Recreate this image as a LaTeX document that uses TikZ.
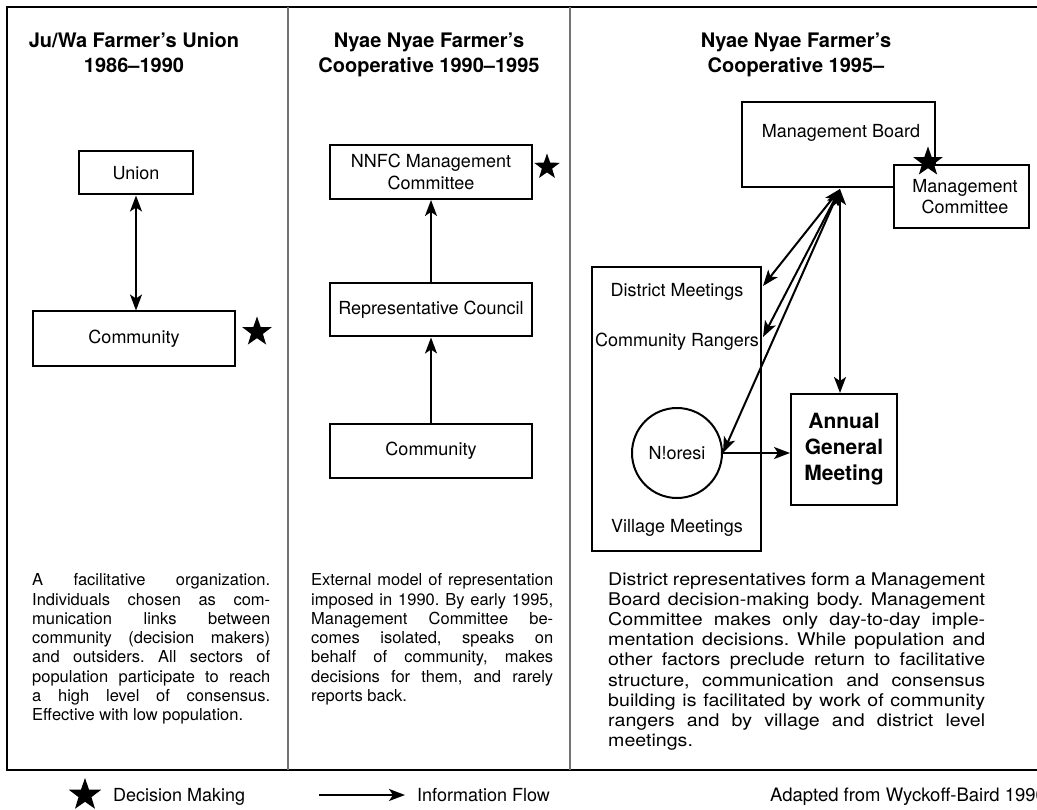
\documentclass[tikz,border=0pt]{standalone}
\usepackage{fontspec}
\setmainfont{TeX Gyre Heros}
\newfontfamily\widefont[FakeStretch=1.12]{TeX Gyre Heros}
\usetikzlibrary{arrows.meta,shapes.geometric,calc}
\newcommand{\jl}[2]{\makebox[#1][s]{\spaceskip=0pt\xspaceskip=0pt\frenchspacing #2}}
\begin{document}
\begin{tikzpicture}[x=1pt,y=-1pt,
  >={Stealth[length=16pt,width=12pt,inset=4pt]},
  box/.style={draw, line width=2pt, rectangle, inner sep=0pt, fill=white,
    font=\fontsize{18}{21}\selectfont, align=center},
  titlenode/.style={font=\fontsize{20}{25.7}\selectfont\bfseries, align=center, anchor=north, inner sep=0pt},
  lbl/.style={font=\fontsize{18}{21}\selectfont, inner sep=0pt, anchor=base},
  conn/.style={line width=2pt},
  dstar/.style={star, star points=5, star point ratio=2.5, fill=black, draw=none, inner sep=0pt},
  para/.style={anchor=north west, inner sep=0pt, align=left},
  divider/.style={line width=1.2pt, draw=black!55},
]
\useasboundingbox (0,0) rectangle (1037,810);
\clip (0,0) rectangle (1037,810);
\fill[white] (0,0) rectangle (1037,810);

% ---------- frame ----------
\draw[line width=2pt] (1045,7) -- (7,7) -- (7,770);
\draw[line width=2.8pt] (6,770) -- (1045,770);
\draw[divider] (288,7) -- (288,770);
\draw[divider] (570,7) -- (570,770);

% ---------- panel 1 ----------
\node[titlenode] (t1) at (134,29) {\strut Ju/Wa Farmer’s Union\\1986–1990};
\node[box, minimum width=114pt, minimum height=43pt] (union) at (136,173) {Union};
\node[box, minimum width=202pt, minimum height=55pt] (comm1) at (134,339) {Community};
\draw[conn,<->] (union.south) -- (union.south |- comm1.north);
\node[dstar, minimum size=31pt] (s1) at (257,332) {};
\node[para, text width=238pt, font=\fontsize{16.5}{19.3}\selectfont\frenchspacing] (p1) at (32,572) {\strut
\jl{238pt}{A facilitative organization.}\\
\jl{238pt}{Individuals chosen as com-}\\
\jl{238pt}{munication links between}\\
\jl{238pt}{community (decision makers)}\\
\jl{238pt}{and outsiders. All sectors of}\\
\jl{238pt}{population participate to reach}\\
\jl{238pt}{a high level of consensus.}\\
\spaceskip=0pt\xspaceskip=0pt Effective with low population.};

% ---------- panel 2 ----------
\node[titlenode] (t2) at (429,29) {\strut Nyae Nyae Farmer’s\\Cooperative 1990–1995};
\node[box, minimum width=202pt, minimum height=54pt, font=\fontsize{18}{22}\selectfont] (nnfc) at (431,172) {NNFC Management\\Committee};
\node[dstar, minimum size=27pt] (s2) at (547,167) {};
\node[box, minimum width=202pt, minimum height=53pt] (rc) at (431,310) {Representative Council};
\node[box, minimum width=202pt, minimum height=53pt] (comm2) at (431,451) {Community};
\draw[conn,->] (comm2.north) -- (rc.south);
\draw[conn,->] (rc.north) -- (nnfc.south);
\node[para, text width=242pt, font=\fontsize{16.5}{19.3}\selectfont\frenchspacing] (p2) at (311,572) {\strut
\jl{242pt}{External model of representation}\\
\jl{242pt}{imposed in 1990. By early 1995,}\\
\jl{242pt}{Management Committee be-}\\
\jl{242pt}{comes isolated, speaks on}\\
\jl{242pt}{behalf of community, makes}\\
\jl{242pt}{decisions for them, and rarely}\\
\spaceskip=0pt\xspaceskip=0pt reports back.};

% ---------- panel 3 ----------
\node[titlenode] (t3) at (796,29) {\strut Nyae Nyae Farmer’s\\Cooperative 1995–};
\node[box, minimum width=193pt, minimum height=85pt] (mb) at (838.5,144.5) {};
\node[lbl] (mbt) at (841,137.5) {Management Board};
\node[box, minimum width=135pt, minimum height=63pt, font=\fontsize{18}{20.5}\selectfont] (mc) at (961,196.5) {\hspace*{8pt}Management\\\hspace*{8pt}Committee};
\node[dstar, minimum size=31pt] (s3) at (928,162) {};

\node[box, fill=none, minimum width=169pt, minimum height=284pt] (db) at (676.5,409) {};
\node[lbl] (dmt) at (677,296.5) {District Meetings};
\node[lbl] (crt) at (677,346.5) {Community Rangers};
\node[lbl] (vmt) at (677,532.5) {Village Meetings};
\node[draw, circle, line width=2pt, minimum size=90pt, inner sep=0pt,
      font=\fontsize{18}{21}\selectfont] (nor) at (677,453) {N!oresi};
\node[box, minimum width=106pt, minimum height=111pt,
      font=\fontsize{21}{26}\selectfont\bfseries] (agm) at (844,449.5) {Annual\\General\\Meeting};

\coordinate (hub) at (840,189);
\coordinate (dm) at (763,286);
\coordinate (cr) at (763,337);
\draw[conn,<->] (hub) -- (dm);
\draw[conn,<->] (hub) -- (cr);
\draw[conn,<->] (hub) -- (nor.east);
\draw[conn,<->] (hub) -- (hub |- agm.north);
\draw[conn,->] (nor.east) -- (nor.east -| agm.west);

\node[para, text width=377pt, font=\widefont\fontsize{17.5}{20.2}\selectfont\frenchspacing] (p3) at (608,570.8) {\strut
\jl{377pt}{District representatives form a Management}\\
\jl{377pt}{Board decision-making body. Management}\\
\jl{377pt}{Committee makes only day-to-day imple-}\\
\jl{377pt}{mentation decisions. While population and}\\
\jl{377pt}{other factors preclude return to facilitative}\\
\jl{377pt}{structure, communication and consensus}\\
\jl{377pt}{building is facilitated by work of community}\\
\jl{377pt}{rangers and by village and district level}\\
meetings.};

% ---------- legend ----------
\node[dstar, minimum size=34pt] (ls) at (85,795) {};
\node[lbl, anchor=base west] (ldm) at (113,801.5) {Decision Making};
\coordinate (la) at (319,795);
\coordinate (lb) at (405,795);
\draw[conn,->] (la) -- (lb);
\node[lbl, anchor=base west] (lif) at (417,801.5) {Information Flow};
\node[lbl, anchor=base west, font=\fontsize{18.5}{21}\selectfont] (src) at (770,801.5) {Adapted from Wyckoff-Baird 1996};
\end{tikzpicture}
\end{document}
